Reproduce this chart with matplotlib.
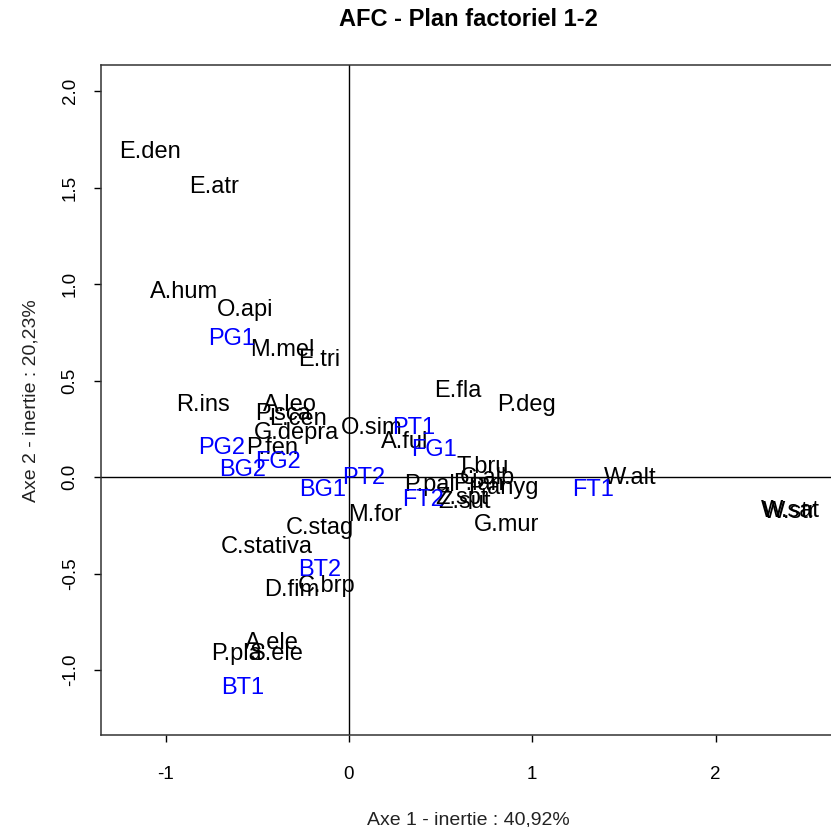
import matplotlib
matplotlib.use('Agg')
import matplotlib.pyplot as plt

plt.rcParams['font.family'] = ['Liberation Sans', 'DejaVu Sans']

# especes (lignes / colonnes AFC) - coordonnees
sp_names = ['E.den', 'E.atr', 'A.hum', 'O.api', 'M.mel', 'E.tri', 'R.ins', 'A.leo',
            'P.sca', 'L.cen', 'G.depra', 'P.fen', 'O.sim', 'A.ful', 'E.fla', 'P.deg',
            'T.bru', 'C.alb', 'P.pal', 'P.lan', 'P.anyg', 'Z.spt', 'Z.sut', 'M.for',
            'G.mur', 'W.alt', 'W.str', 'W.sat', 'C.stag', 'C.stativa', 'C.brp', 'D.fim',
            'A.ele', 'P.pla', 'S.ele']
sp_x = [-1.086, -0.737, -0.900, -0.567, -0.366, -0.164, -0.797, -0.322,
        -0.360, -0.278, -0.284, -0.420, 0.125, 0.306, 0.595, 0.966,
        0.731, 0.753, 0.442, 0.704, 0.840, 0.616, 0.633, 0.142,
        0.862, 1.533, 2.406, 2.410, -0.158, -0.447, -0.120, -0.311,
        -0.420, -0.616, -0.393]
sp_y = [1.684, 1.503, 0.959, 0.865, 0.658, 0.606, 0.373, 0.373,
        0.326, 0.301, 0.228, 0.150, 0.254, 0.181, 0.446, 0.373,
        0.052, -0.005, -0.041, -0.036, -0.057, -0.109, -0.130, -0.197,
        -0.249, -0.005, -0.181, -0.178, -0.264, -0.363, -0.565, -0.585,
        -0.860, -0.917, -0.917]

# releves
site_names = ['PG1', 'PG2', 'FG2', 'BG2', 'BG1', 'PT2', 'PT1', 'FG1', 'FT2', 'FT1', 'BT2', 'BT1']
site_x = [-0.638, -0.693, -0.387, -0.578, -0.142, 0.082, 0.355, 0.464, 0.404, 1.331, -0.158, -0.578]
site_y = [0.715, 0.150, 0.078, 0.036, -0.067, -0.005, 0.254, 0.140, -0.119, -0.067, -0.482, -1.093]

fig = plt.figure(figsize=(8.31, 8.27), dpi=100)
ax = fig.add_axes([0.1215, 0.1112, 0.8845, 0.8101])

for n, x, y in zip(sp_names, sp_x, sp_y):
    ax.text(x, y, n, color='black', fontsize=17, ha='center', va='center')
for n, x, y in zip(site_names, site_x, site_y):
    ax.text(x, y, n, color='blue', fontsize=17, ha='center', va='center')

ax.axhline(0, color='black', lw=1)
ax.axvline(0, color='black', lw=1)

ax.set_xlim(-1.353, 2.657)
ax.set_ylim(-1.337, 2.135)
ax.set_xticks([-1, 0, 1, 2])
ax.set_xticklabels(['-1', '0', '1', '2'])
ax.set_yticks([-1.0, -0.5, 0.0, 0.5, 1.0, 1.5, 2.0])
ax.set_yticklabels(['-1.0', '-0.5', '0.0', '0.5', '1.0', '1.5', '2.0'], rotation=90, va='center')
ax.tick_params(axis='x', length=5, width=1, labelsize=13.5, pad=17)
ax.tick_params(axis='y', length=5, width=1, labelsize=13.5, pad=11)
for s in ax.spines.values():
    s.set_linewidth(1.1)
    s.set_color('#333333')

fig.text(0.5638, 0.976, 'AFC - Plan factoriel 1-2', fontsize=17, fontweight='bold',
         ha='center', va='center')
fig.text(0.5638, 0.0085, 'Axe 1 - inertie : 40,92%', fontsize=14, ha='center', va='center',
         color='#222222')
fig.text(0.037, 0.516, 'Axe 2 - inertie : 20,23%', fontsize=14, ha='center', va='center',
         rotation=90, color='#222222')

fig.savefig('out.png', dpi=100)
